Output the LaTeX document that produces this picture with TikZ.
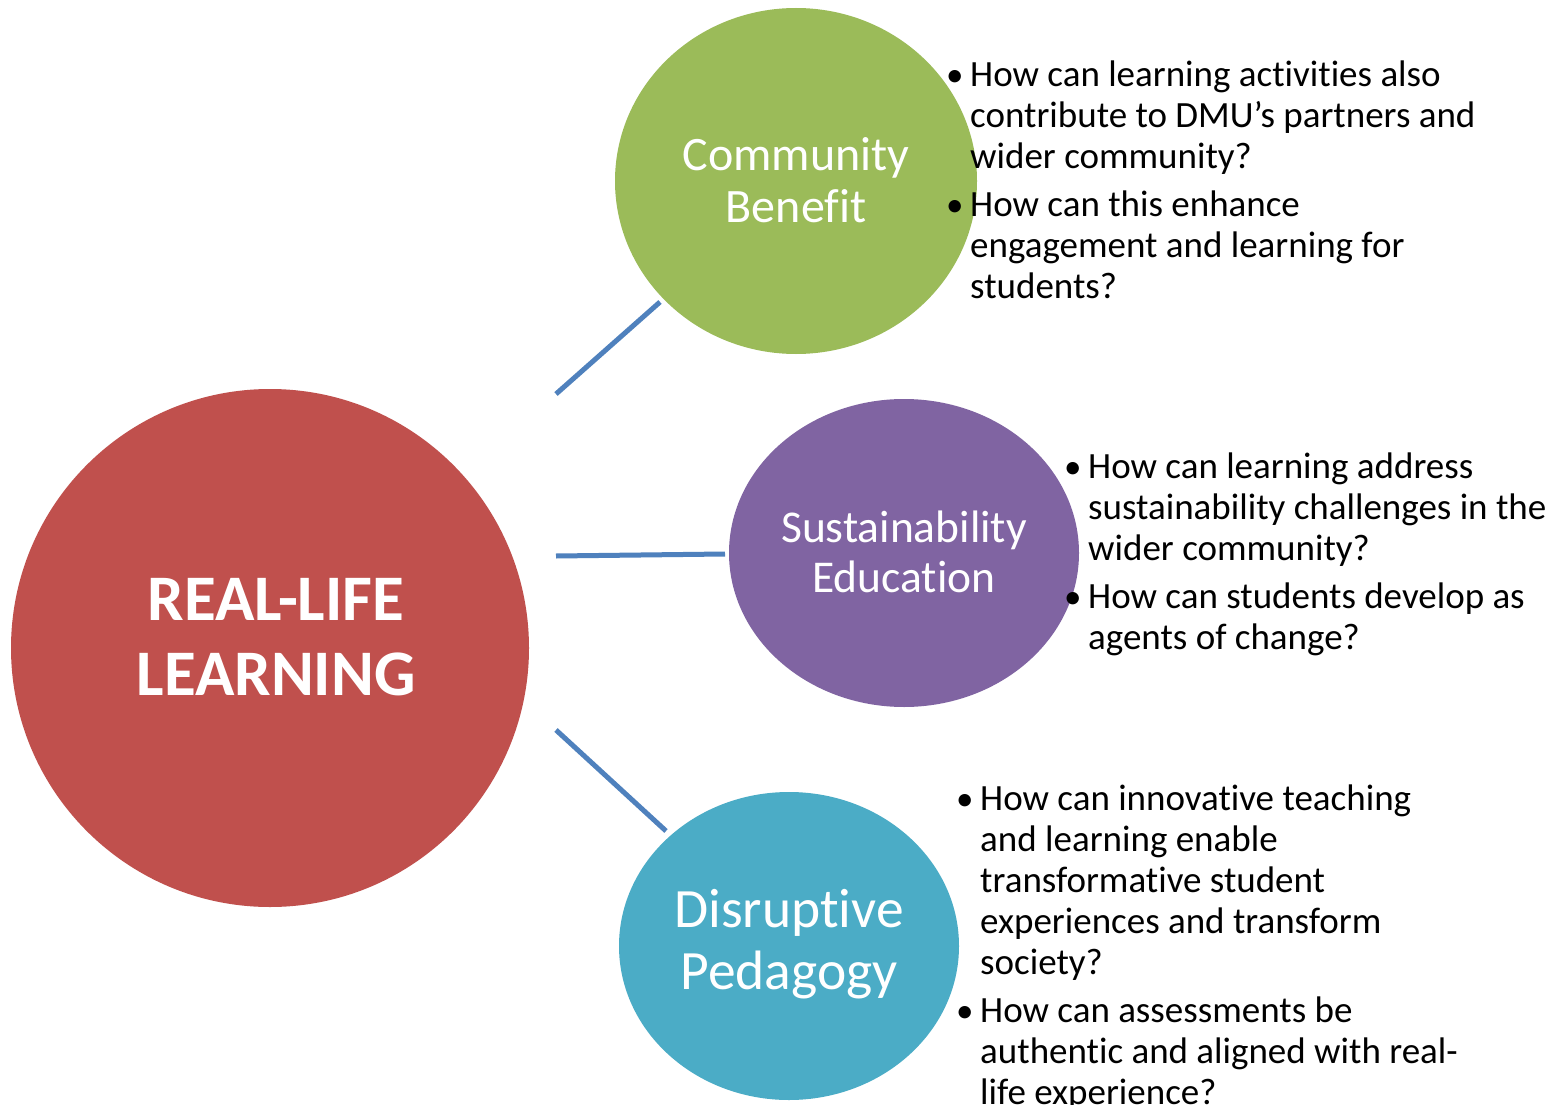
\documentclass[tikz,border=0pt]{standalone}
\usepackage{fontspec}
\setmainfont{Carlito}[Ligatures={NoCommon,NoContextual,NoRare}]
\usetikzlibrary{shapes.geometric}
\definecolor{cred}{HTML}{C0504D}
\definecolor{cgreen}{HTML}{9BBB59}
\definecolor{cpurple}{HTML}{8064A2}
\definecolor{cteal}{HTML}{4BACC6}
\definecolor{cline}{HTML}{4F81BD}
\begin{document}
\begin{tikzpicture}[x=1pt,y=-1pt,
  blob/.style={ellipse, inner sep=0pt, draw=none},
  blobtext/.style={text=white, align=center, inner sep=0pt},
  link/.style={draw=cline, line width=5pt},
  qline/.style={anchor=base west, inner sep=0pt, font=\fontsize{37}{41}\selectfont},
  qbullet/.style={anchor=base west, inner sep=0pt, font=\fontsize{35}{41}\selectfont}]
\useasboundingbox[fill=white] (0,0) rectangle (1556,1105);
% circles
\node[blob, fill=cred, minimum width=518, minimum height=518] (main) at (270,648) {};
\node[blob, fill=cgreen, minimum width=362, minimum height=346] (comm) at (796,181) {};
\node[blob, fill=cpurple, minimum width=350, minimum height=308] (sust) at (904,553) {};
\node[blob, fill=cteal, minimum width=340, minimum height=308] (disr) at (789,946) {};
% labels
\node[blobtext, font=\bfseries\fontsize{65}{75}\selectfont] (mainlabel) at (276,637) {REAL-LIFE\\LEARNING};
\node[blobtext, font=\fontsize{48}{52}\selectfont] (commlabel) at (796,180) {Community\\Benefit};
\node[blobtext, font=\fontsize{45.5}{50}\selectfont] (sustlabel) at (904,552) {Sustainability\\Education};
\node[blobtext, font=\fontsize{55.5}{62}\selectfont] (disrlabel) at (789,944) {Disruptive\\Pedagogy};
% connectors
\coordinate (a1) at (556,394); \coordinate (b1) at (660,302);
\coordinate (a2) at (556,556); \coordinate (b2) at (725,554);
\coordinate (a3) at (556,730); \coordinate (b3) at (666,831);
\draw[link] (a1) -- (b1);
\draw[link] (a2) -- (b2);
\draw[link] (a3) -- (b3);
% group 1
\node[qbullet] (g1b1) at (946,87) {•};
\node[qbullet] (g1b2) at (946,216) {•};
\node[qline] (g1l1) at (970,87) {How can learning activities also};
\node[qline] (g1l2) at (970,128) {contribute to DMU’s partners and};
\node[qline] (g1l3) at (970,168) {wider community?};
\node[qline] (g1l4) at (970,216) {How can this enhance};
\node[qline] (g1l5) at (970,257) {engagement and learning for};
\node[qline] (g1l6) at (970,298) {students?};
% group 2
\node[qbullet] (g2b1) at (1064,478) {•};
\node[qbullet] (g2b2) at (1064,608) {•};
\node[qline] (g2l1) at (1088,478) {How can learning address};
\node[qline] (g2l2) at (1088,519) {sustainability challenges in the};
\node[qline] (g2l3) at (1088,560) {wider community?};
\node[qline] (g2l4) at (1088,608) {How can students develop as};
\node[qline] (g2l5) at (1088,649) {agents of change?};
% group 3
\node[qbullet] (g3b1) at (956,810) {•};
\node[qbullet] (g3b2) at (956,1022) {•};
\node[qline] (g3l1) at (980,810) {How can innovative teaching};
\node[qline] (g3l2) at (980,851) {and learning enable};
\node[qline] (g3l3) at (980,892) {transformative student};
\node[qline] (g3l4) at (980,933) {experiences and transform};
\node[qline] (g3l5) at (980,974) {society?};
\node[qline] (g3l6) at (980,1022) {How can assessments be};
\node[qline] (g3l7) at (980,1063) {authentic and aligned with real-};
\node[qline] (g3l8) at (980,1104) {life experience?};
\end{tikzpicture}
\end{document}
